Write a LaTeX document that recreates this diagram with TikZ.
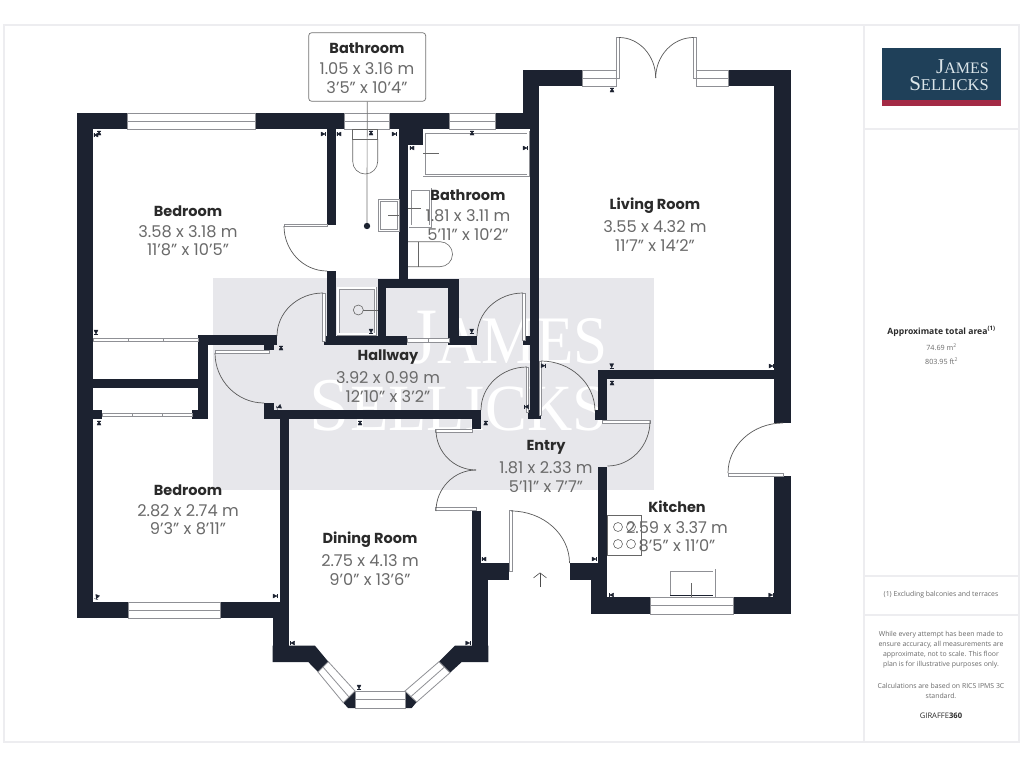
\documentclass[tikz,border=0pt]{standalone}
\usepackage{fontspec}
\setmainfont{Poppins}
\newfontfamily\sidefont{Open Sans}
\newfontfamily\logofont{Liberation Serif}
\usetikzlibrary{arrows.meta,calc}

\definecolor{walldark}{HTML}{1C2230}
\definecolor{fixgray}{HTML}{8F9095}
\definecolor{dimgray}{HTML}{6A6A6A}
\definecolor{titledark}{HTML}{2A2A2A}
\definecolor{framegray}{HTML}{EDEDF0}
\definecolor{markgray}{HTML}{E7E7EB}
\definecolor{logoblue}{HTML}{1F4059}
\definecolor{logored}{HTML}{A32A45}
\definecolor{logotext}{HTML}{DCE6EA}

\tikzset{
  wall/.style={fill=walldark,draw=none},
  pane/.style={fill=white,draw=fixgray,line width=.8pt},
  leaf/.style={fill=white,draw=fixgray,line width=.8pt},
  swing/.style={draw=black!65,line width=.7pt},
  fixture/.style={draw=black!60,line width=.6pt},
  basin/.style={draw=fixgray,line width=.8pt,double=white,double distance=1.4pt},
  tickmark/.style={fill=walldark,draw=walldark,line width=.3pt},
  roomtitle/.style={align=center,inner sep=0pt,text=titledark,font=\fontsize{14.5}{16}\selectfont\bfseries},
  roomdim/.style={align=center,inner sep=0pt,text=dimgray,font=\fontsize{16.2}{18.3}\selectfont},
  sidetext/.style={align=center,inner sep=0pt,text=dimgray,font=\sidefont\fontsize{6.9}{10}\selectfont},
}

\newcommand{\dimtick}[3]{%
  \fill[tickmark,shift={(#1,#2)},rotate=#3] (-2,-2) -- (2,0) -- (-2,2) -- cycle;
  \draw[tickmark,shift={(#1,#2)},rotate=#3] (2.3,-2) -- (2.3,2);
}
\newcommand{\roomlabel}[5]{%
  \node[roomtitle] (#1) at (#2,#3-21) {#4};
  \node[roomdim] (#1dim) at (#2,#3+9) {#5};
}

\begin{document}
\begin{tikzpicture}[x=1pt,y=-1pt]
  \useasboundingbox (0,0) rectangle (1024,768);
  \fill[white] (0,0) rectangle (1024,768);

  % page frame and side panel
  \draw[framegray,line width=1.2pt] (4,25) rectangle (1019,742);
  \draw[framegray,line width=1.2pt] (864,25) -- (864,742);
  \foreach \ly in {129,576,615}
    \draw[framegray,line width=1.2pt] (864,\ly) -- (1019,\ly);

  % watermark
  \fill[markgray] (213,278) rectangle (654,490);
  \node[anchor=base east,inner sep=0pt,text=white] (markone) at (608,363)
    {\logofont\scalebox{.9}[1]{\fontsize{80}{80}\selectfont J\fontsize{68}{68}\selectfont AMES}};
  \node[anchor=base east,inner sep=0pt,text=white] (marktwo) at (608,430)
    {\logofont\scalebox{.95}[1]{\fontsize{76}{76}\selectfont S\fontsize{66}{66}\selectfont ELLICKS}};

  % walls
  \foreach \xa/\ya/\xb/\yb in {
    77/113/127.5/129, 255.5/113/344/129, 389/113/449.5/129, 495.5/113/539/129,
    399/129/422.5/145, 522.7/70/582/86, 728.3/70/791/86, 522.7/70/539/129,
    530/129/539/419.3, 528.3/410/540.7/419.3, 523.3/336/530/344.5, 774/70/791/423,
    77/113/93/618.3, 77/602.3/128.3/618.3, 220.3/602.3/289.3/618.3,
    326.7/129/335.7/224.5, 399/129/408/279, 326.7/271/335.7/344.5,
    323.5/335.7/407/344.5, 377.7/279/386.3/344.5, 377.7/279/458.7/288,
    448/279/458.7/344.5, 448/335.7/476.7/344.5,
    93/379/198.3/388, 198.3/335/207.7/419.3, 198.3/335/276.7/344.7,
    264.3/344/274/350, 93/410/102/419.3, 192/410/198.3/419.3,
    264/403/274/419.3, 264/410.3/481/419.3, 471.7/419/481/429,
    280/419/289.3/618.3, 272.7/618/289.3/662,
    471.7/510.7/480.7/563.3, 471.7/563.3/488.3/662, 471.7/563.3/509.3/580,
    570/563.3/607.3/580, 590.7/563.3/607.3/614, 598.3/466.7/607.3/614,
    590.7/597.3/650.7/614, 733/597.3/791/614, 774/476/791/614,
    598/370/791/378.7, 598/370/607/420, 594.7/410/607/420}
    \fill[wall] (\xa,\ya) rectangle (\xb,\yb);

  % bay wall pieces
  \fill[wall] (272.7,645.7) -- (315,645.7) -- (328.3,661.7) -- (318,672) -- (308.3,662) -- (272.7,662) -- cycle;
  \fill[wall] (488.3,645.7) -- (455,645.7) -- (439,661.7) -- (450,672.7) -- (461.7,662) -- (488.3,662) -- cycle;
  \fill[wall] (343.3,702.7) -- (348,708) -- (355,708) -- (355,691) -- cycle;
  \fill[wall] (405,691) -- (405,708) -- (411.7,708) -- (416.7,702) -- cycle;

  % windows
  \foreach \xa/\ya/\xb/\yb in {
    127.5/113/255.5/129, 344/113/389/129, 449.5/113/495.5/129,
    582/70/616/86, 696/70/728.3/86, 128.3/602.3/220.3/618.3,
    650.7/597.3/733/614, 355/691/405/708}{
    \draw[pane] (\xa,\ya) rectangle (\xb,\yb);
    \draw[fixgray,line width=.8pt] (\xa,{(\ya+\yb)/2}) -- (\xb,{(\ya+\yb)/2});
  }
  \draw[pane] (318,672) -- (328.3,661.7) -- (355,691) -- (343.3,702.7) -- cycle;
  \draw[fixgray,line width=.8pt] (323,667) -- (349,697);
  \draw[pane] (439,661.7) -- (450,672.7) -- (416.7,702) -- (405,691) -- cycle;
  \draw[fixgray,line width=.8pt] (444.5,667) -- (411,696.5);

  % sliding doors
  \foreach \xa/\ya/\xb/\yb in {93/338/198.3/341, 102/413/192/416.5, 407/338.5/449/342}
    \draw[leaf] (\xa,\ya) rectangle (\xb,\yb);
  \foreach \tx/\ty in {128/338, 163/338, 132/413, 162/413, 428/338.5}
    \draw[fixgray,line width=.8pt] (\tx,\ty) -- (\tx,\ty+3.5);

  % door leaves
  \foreach \xa/\ya/\xb/\yb in {
    284/224/327/226.5, 322.3/293/325/341, 215/350.7/269.5/353.3,
    522.7/293/525.5/340, 526/367/528.3/412, 539.3/361/541.7/415,
    602/420.5/650/423.5, 435.7/429/472/432, 435.7/507.7/476/510.7,
    509.3/510.7/512/571.7, 728/473/783/476.5, 616/37.5/619/78, 693/37.5/696/78}
    \draw[leaf] (\xa,\ya) rectangle (\xb,\yb);

  % door swings: tip, corner, wall end
  \foreach \pa/\pb/\ca/\cb/\qa/\qb in {
    284/226/284/271/327/271, 323/293/277/293/277/336, 215/353/215/403/264/403,
    523/293/477/293/477/336, 527/367/481/367/481/410, 541/361/595/361/595/411,
    650/421/650/466/607.5/466, 783/423/728/423/728/473, 436/430/436/470/476/470,
    436/511/436/470/476/470, 511/511/569.5/511/569.5/563,
    619/37.5/655.7/37.5/655.7/78, 693.5/37.5/655.7/37.5/655.7/78}
    \draw[swing] (\pa,\pb) .. controls ($(\pa,\pb)!.55!(\ca,\cb)$) and ($(\qa,\qb)!.55!(\ca,\cb)$) .. (\qa,\qb);

  % bathroom fittings
  \draw[basin] (424,132) rectangle (528,175.5);
  \draw[fixture] (423,153) -- (439,153);
  \draw[fixture] (352.7,129) rectangle (377.7,139);
  \draw[fixture] (352.7,139) -- (352.7,161.5) arc[start angle=180,end angle=0,radius=12.5] -- (377.7,139);
  \draw[basin] (379.5,200.5) rectangle (398.5,230.5);
  \draw[fixture] (388,215) -- (399,215);
  \draw[basin] (410,189) rectangle (430.5,226);
  \draw[fixture] (408,208) -- (421,208);
  \draw[fixture] (408,241.7) -- (440,241.7) arc[start angle=-90,end angle=90,radius=12.5] -- (408,266.7);
  \draw[fixture] (418.3,241.7) -- (418.3,266.7);
  \draw[basin] (338,288) rectangle (375.5,334);
  \draw[fixture] (358.3,310) circle[radius=5];
  \draw[fixture,line width=.7pt] (363.3,310) -- (377.7,310);

  % kitchen fittings
  \draw[fixture] (607,515.7) rectangle (641.7,555);
  \foreach \cx/\cy in {618/527, 631/527, 618/544, 631/544}
    \draw[fixture] (\cx,\cy) circle[radius=4.5];
  \draw[basin] (669,570) rectangle (714,596);
  \draw[walldark,line width=.9pt] (670,595.5) -- (713,595.5);
  \draw[fixture] (691.5,583) -- (691.5,597);

  % entrance arrow
  \coordinate (entrytail) at (540,587);
  \coordinate (entryhead) at (540,572.5);
  \draw[black!70,line width=.6pt,-{Straight Barb[length=5pt,width=13pt]}] (entrytail) -- (entryhead);

  % wall markers
  \foreach \tx/\ty/\ta in {
    96/135/180, 99/133/90, 323/134/0, 96/332/270, 339/134/180, 394/134/0, 371/133/90,
    412/148/180, 525/148/0, 472/133/90, 612/90/90, 281/348/90, 371/331/270,
    471.7/331/270, 360/423/90, 99/423/90, 485.7/423/90, 279/407/200, 543/365.7/0,
    526.7/406.7/180, 611.7/365.7/270, 612/383/90, 771/366/0, 484/559/180, 594/559/0,
    611.7/595/180, 770.7/595/0, 292.7/643/180, 467.7/643/0, 359/687/270,
    97/597/250, 275/596/0}
    {\dimtick{\tx}{\ty}{\ta}}

  % room labels
  \roomlabel{bedroomtop}{188}{232}{Bedroom}{3.58 x 3.18 m\\11'8" x 10'5"}
  \roomlabel{bathroomside}{468}{216}{Bathroom}{1.81 x 3.11 m\\5'11" x 10'2"}
  \roomlabel{livingroom}{655}{227}{Living Room}{3.55 x 4.32 m\\11'7" x 14'2"}
  \roomlabel{hallway}{388}{378}{Hallway}{3.92 x 0.99 m\\12'10" x 3'2"}
  \roomlabel{bedroomlow}{188}{511}{Bedroom}{2.82 x 2.74 m\\9'3" x 8'11"}
  \roomlabel{diningroom}{370}{561}{Dining Room}{2.75 x 4.13 m\\9'0" x 13'6"}
  \roomlabel{entry}{546}{468}{Entry}{1.81 x 2.33 m\\5'11" x 7'7"}
  \roomlabel{kitchen}{677}{528}{Kitchen}{2.59 x 3.37 m\\8'5" x 11'0"}

  % callout for the narrow bathroom
  \node[draw=black!55,fill=white,rounded corners=3pt,line width=.7pt,minimum width=117pt,minimum height=68.6pt,inner sep=0pt] (bathbox) at (367.2,67) {};
  \roomlabel{bathroomtop}{367}{69}{Bathroom}{1.05 x 3.16 m\\3'5" x 10'4"}
  \coordinate (bathdot) at (367,226);
  \draw[black!55,line width=.7pt] (bathbox.south) -- (bathdot);
  \fill[walldark] (bathdot) circle[radius=3.2];

  % logo
  \fill[logoblue] (882.3,48.3) rectangle (1000.7,100);
  \fill[logored] (882.3,100) rectangle (1000.7,106.3);
  \node[anchor=base east,inner sep=0pt,text=logotext] (logoone) at (989,73)
    {\logofont\fontsize{21}{21}\selectfont J\fontsize{16}{16}\selectfont AMES};
  \node[anchor=base east,inner sep=0pt,text=logotext] (logotwo) at (989,90)
    {\logofont\fontsize{21}{21}\selectfont S\fontsize{16.5}{16.5}\selectfont ELLICKS};

  % side panel text
  \node[sidetext,text=titledark,font=\sidefont\fontsize{8.6}{10}\selectfont\bfseries] (areatitle) at (941.5,331) {Approximate total area\textsuperscript{(1)}};
  \node[sidetext,font=\sidefont\fontsize{7.2}{10}\selectfont] (areametric) at (941.5,347) {74.69 m\textsuperscript{2}};
  \node[sidetext,font=\sidefont\fontsize{7.2}{10}\selectfont] (areaimperial) at (941.5,361) {803.95 ft\textsuperscript{2}};
  \node[sidetext] (excluding) at (941,595) {(1) Excluding balconies and terraces};
  \node[sidetext] (disclaimer) at (941,650) {While every attempt has been made to\\ensure accuracy, all measurements are\\approximate, not to scale. This floor\\plan is for illustrative purposes only.};
  \node[sidetext] (calcnote) at (941,691) {Calculations are based on RICS IPMS 3C\\standard.};
  \node[sidetext,text=titledark,font=\sidefont\fontsize{7.6}{10}\selectfont] (giraffe) at (941,716) {GIRAFFE\textbf{360}};
\end{tikzpicture}
\end{document}
